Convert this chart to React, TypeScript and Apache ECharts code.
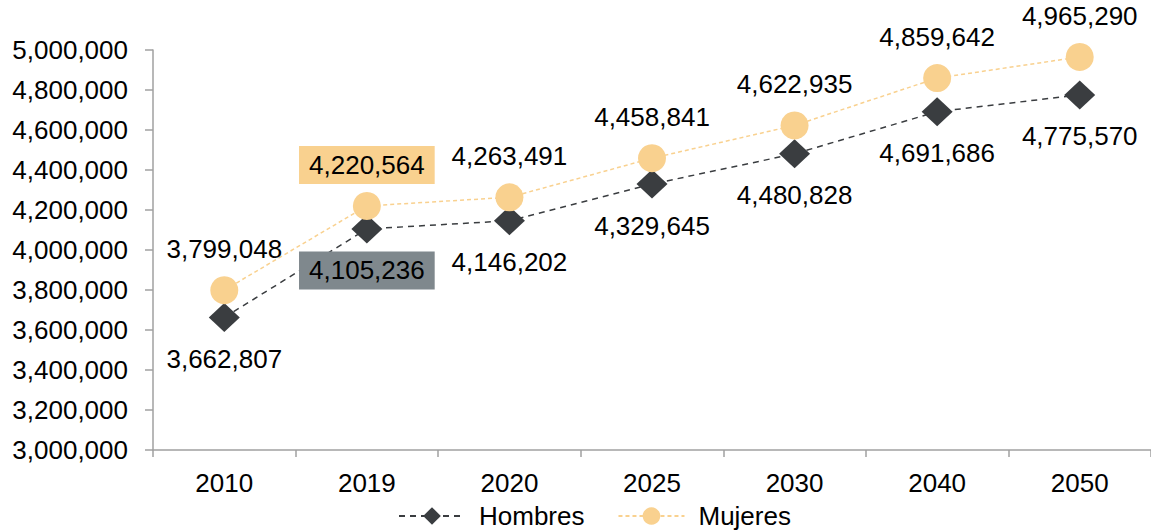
import React, { useEffect, useRef } from "react";
import * as echarts from "echarts";

const categories = ["2010", "2019", "2020", "2025", "2030", "2040", "2050"];
const hombres = [3662807, 4105236, 4146202, 4329645, 4480828, 4691686, 4775570];
const mujeres = [3799048, 4220564, 4263491, 4458841, 4622935, 4859642, 4965290];
const highlightIndex = 1;

const fmt = (v: number) => v.toLocaleString("en-US");
const FONT = "'Liberation Sans', Arial, sans-serif";
const FS = 26;

export default function App() {
  const ref = useRef<HTMLDivElement>(null);
  useEffect(() => {
    const chart = echarts.init(ref.current!, null, { renderer: "svg" });
    const mkData = (arr: number[], boxColor: string, pos: string) =>
      arr.map((v, i) =>
        i === highlightIndex
          ? {
              value: v,
              label: {
                backgroundColor: boxColor,
                padding: [6, 10, 6, 10],
                distance: 8,
                position: pos,
              },
            }
          : { value: v }
      );
    chart.setOption({
      animation: false,
      textStyle: { fontFamily: FONT },
      grid: { left: 153, top: 50, width: 1000, height: 400 },
      legend: {
        top: 498,
        left: 393,
        itemWidth: 66,
        itemHeight: 22,
        itemGap: 33,
        textStyle: {
          fontSize: FS,
          color: "#000",
          fontFamily: FONT,
          padding: [0, 0, 0, 9],
        },
        data: ["Hombres", "Mujeres"],
      },
      xAxis: {
        type: "category",
        data: categories,
        boundaryGap: true,
        axisLine: { lineStyle: { color: "#a0a0a0", width: 1.5 } },
        axisTick: { show: true, length: 7, lineStyle: { color: "#a0a0a0", width: 1.5 } },
        axisLabel: { fontSize: FS, color: "#000", margin: 20, fontFamily: FONT },
      },
      yAxis: {
        type: "value",
        min: 3000000,
        max: 5000000,
        interval: 200000,
        axisLine: { show: true, lineStyle: { color: "#a0a0a0", width: 1.5 } },
        axisTick: { show: true, length: 8, lineStyle: { color: "#a0a0a0", width: 1.5 } },
        splitLine: { show: false },
        axisLabel: {
          fontSize: FS,
          color: "#000",
          margin: 25,
          fontFamily: FONT,
          formatter: (v: number) => fmt(v),
        },
      },
      series: [
        {
          name: "Hombres",
          type: "line",
          data: mkData(hombres, "#7f888d", "bottom"),
          symbol: "diamond",
          symbolSize: [31, 29],
          itemStyle: { color: "#3a3d40" },
          lineStyle: { color: "#3a3d40", width: 1.5, type: [6, 5] },
          label: {
            show: true,
            position: "bottom",
            distance: 14,
            fontSize: FS,
            color: "#000",
            fontFamily: FONT,
            formatter: (p: any) => fmt(p.value),
          },
          z: 2,
        },
        {
          name: "Mujeres",
          type: "line",
          data: mkData(mujeres, "#f9d18f", "top"),
          symbol: "circle",
          symbolSize: 28,
          itemStyle: { color: "#f9d18f" },
          lineStyle: { color: "#f9d18f", width: 1.5, type: [4, 3] },
          label: {
            show: true,
            position: "top",
            distance: 14,
            fontSize: FS,
            color: "#000",
            fontFamily: FONT,
            formatter: (p: any) => fmt(p.value),
          },
          z: 3,
        },
      ],
    });
    return () => chart.dispose();
  }, []);
  return (
    <div
      ref={ref}
      style={{ position: "absolute", left: 0, top: 0, width: 1151, height: 531 }}
    />
  );
}
